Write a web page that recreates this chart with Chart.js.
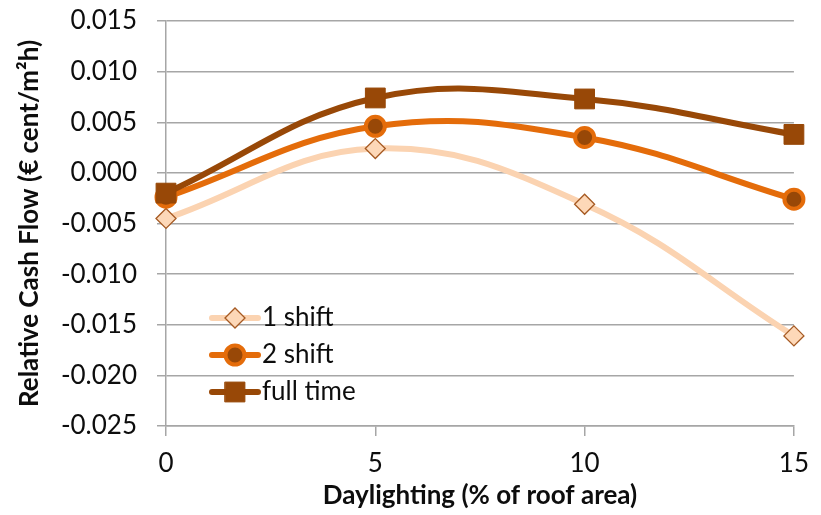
<!DOCTYPE html>
<html>
<head>
<meta charset="utf-8">
<script src="https://cdn.jsdelivr.net/npm/chart.js@4/dist/chart.umd.min.js"></script>
<style>
  html, body { margin: 0; padding: 0; background: #ffffff; }
  #wrap { width: 821px; height: 515px; }
</style>
</head>
<body>
<div id="wrap"><canvas id="c" width="821" height="515"></canvas></div>
<script>
// Daylighting share of roof area (%)
const daylighting = [0, 5, 10, 15];
// Relative cash flow per schedule (€ cent/m²h)
const oneShift = [-0.0045, 0.0024, -0.0031, -0.0161];
const twoShift = [-0.0024, 0.0046, 0.0035, -0.0026];
const fullTime = [-0.0020, 0.0074, 0.0073, 0.0038];
const seriesNames = ['1 shift', '2 shift', 'full time'];
const yRange = { min: -0.025, max: 0.015, step: 0.005 };
const xRange = { min: 0, max: 15, step: 5 };

const FONT = 'Lato, "Open Sans", sans-serif';
const FONT_SIZE = 26;
const GRID = '#a6a6a6';
const INK = '#0d0d0d';

function toPoints(values) {
  return daylighting.map((x, i) => ({ x: x, y: values[i] }));
}

const datasets = [
  {
    label: seriesNames[0],
    data: toPoints(oneShift),
    borderColor: '#fbd3b1',
    borderWidth: 6,
    pointStyle: 'rectRot',
    pointRadius: 10,
    pointBackgroundColor: '#fdd8b8',
    pointBorderColor: '#a65a23',
    pointBorderWidth: 1.3,
    order: 3
  },
  {
    label: seriesNames[1],
    data: toPoints(twoShift),
    borderColor: '#e46c0a',
    borderWidth: 6,
    pointStyle: 'circle',
    pointRadius: 9.5,
    pointBackgroundColor: '#984807',
    pointBorderColor: '#e46c0a',
    pointBorderWidth: 4,
    order: 2
  },
  {
    label: seriesNames[2],
    data: toPoints(fullTime),
    borderColor: '#984807',
    borderWidth: 6,
    pointStyle: 'rect',
    pointRadius: 14,
    pointBackgroundColor: '#984807',
    pointBorderColor: '#984807',
    pointBorderWidth: 1,
    order: 1
  }
];
datasets.forEach(d => {
  d.tension = 0.4;
  d.fill = false;
  d.clip = false;
  d.pointHoverRadius = d.pointRadius;
});

// Legend drawn inside the plot, lower left, one entry per row
const legendPlugin = {
  id: 'legendEntries',
  afterDatasetsDraw(chart) {
    const ctx = chart.ctx;
    const x0 = 212, x1 = 258, textX = 262;
    const rows = [318, 355, 392];
    ctx.save();
    chart.data.datasets.forEach((ds, i) => {
      const y = rows[i];
      ctx.strokeStyle = ds.borderColor;
      ctx.lineWidth = ds.borderWidth;
      ctx.lineCap = 'round';
      ctx.beginPath();
      ctx.moveTo(x0, y);
      ctx.lineTo(x1, y);
      ctx.stroke();
      ctx.fillStyle = ds.pointBackgroundColor;
      ctx.strokeStyle = ds.pointBorderColor;
      ctx.lineWidth = ds.pointBorderWidth;
      Chart.helpers.drawPoint(ctx, {
        pointStyle: ds.pointStyle,
        radius: ds.pointRadius,
        rotation: 0,
        borderWidth: ds.pointBorderWidth
      }, (x0 + x1) / 2, y);
      ctx.fillStyle = INK;
      ctx.font = FONT_SIZE + 'px ' + FONT;
      ctx.textAlign = 'left';
      ctx.textBaseline = 'middle';
      ctx.fillText(ds.label, textX, y);
    });
    ctx.restore();
  }
};

new Chart(document.getElementById('c'), {
  type: 'line',
  data: { datasets: datasets },
  plugins: [legendPlugin],
  options: {
    responsive: false,
    devicePixelRatio: 1,
    animation: false,
    events: [],
    layout: { padding: { left: 0, top: 21, right: 21, bottom: 0 } },
    plugins: {
      legend: { display: false },
      tooltip: { enabled: false }
    },
    scales: {
      x: {
        type: 'linear',
        min: xRange.min,
        max: xRange.max,
        afterFit(scale) { scale.height = 89; },
        ticks: {
          stepSize: xRange.step,
          color: INK,
          padding: 12,
          font: { family: FONT, size: FONT_SIZE }
        },
        grid: {
          drawOnChartArea: false,
          drawTicks: true,
          tickLength: 10,
          color: GRID,
          lineWidth: 1.5
        },
        border: { color: GRID, width: 1.5 },
        title: {
          display: true,
          text: 'Daylighting (% of roof area)',
          color: INK,
          font: { family: FONT, size: FONT_SIZE, weight: 'bold' },
          padding: { top: 0, bottom: 4 }
        }
      },
      y: {
        type: 'linear',
        min: yRange.min,
        max: yRange.max,
        afterFit(scale) {
          scale.width = 166;
          // the outer layout padding already leaves room for the end labels
          scale.paddingTop = 0;
          scale.paddingBottom = 0;
        },
        ticks: {
          stepSize: yRange.step,
          color: INK,
          padding: 20,
          font: { family: FONT, size: FONT_SIZE },
          callback: v => v.toFixed(3)
        },
        grid: {
          drawTicks: true,
          tickLength: 9,
          color: GRID,
          lineWidth: 1.5
        },
        border: { color: GRID, width: 1.5 },
        title: {
          display: true,
          text: 'Relative Cash Flow (€ cent/m²h)',
          color: INK,
          font: { family: FONT, size: FONT_SIZE, weight: 'bold' },
          padding: { top: 14, bottom: 0 }
        }
      }
    }
  }
});
</script>
</body>
</html>
